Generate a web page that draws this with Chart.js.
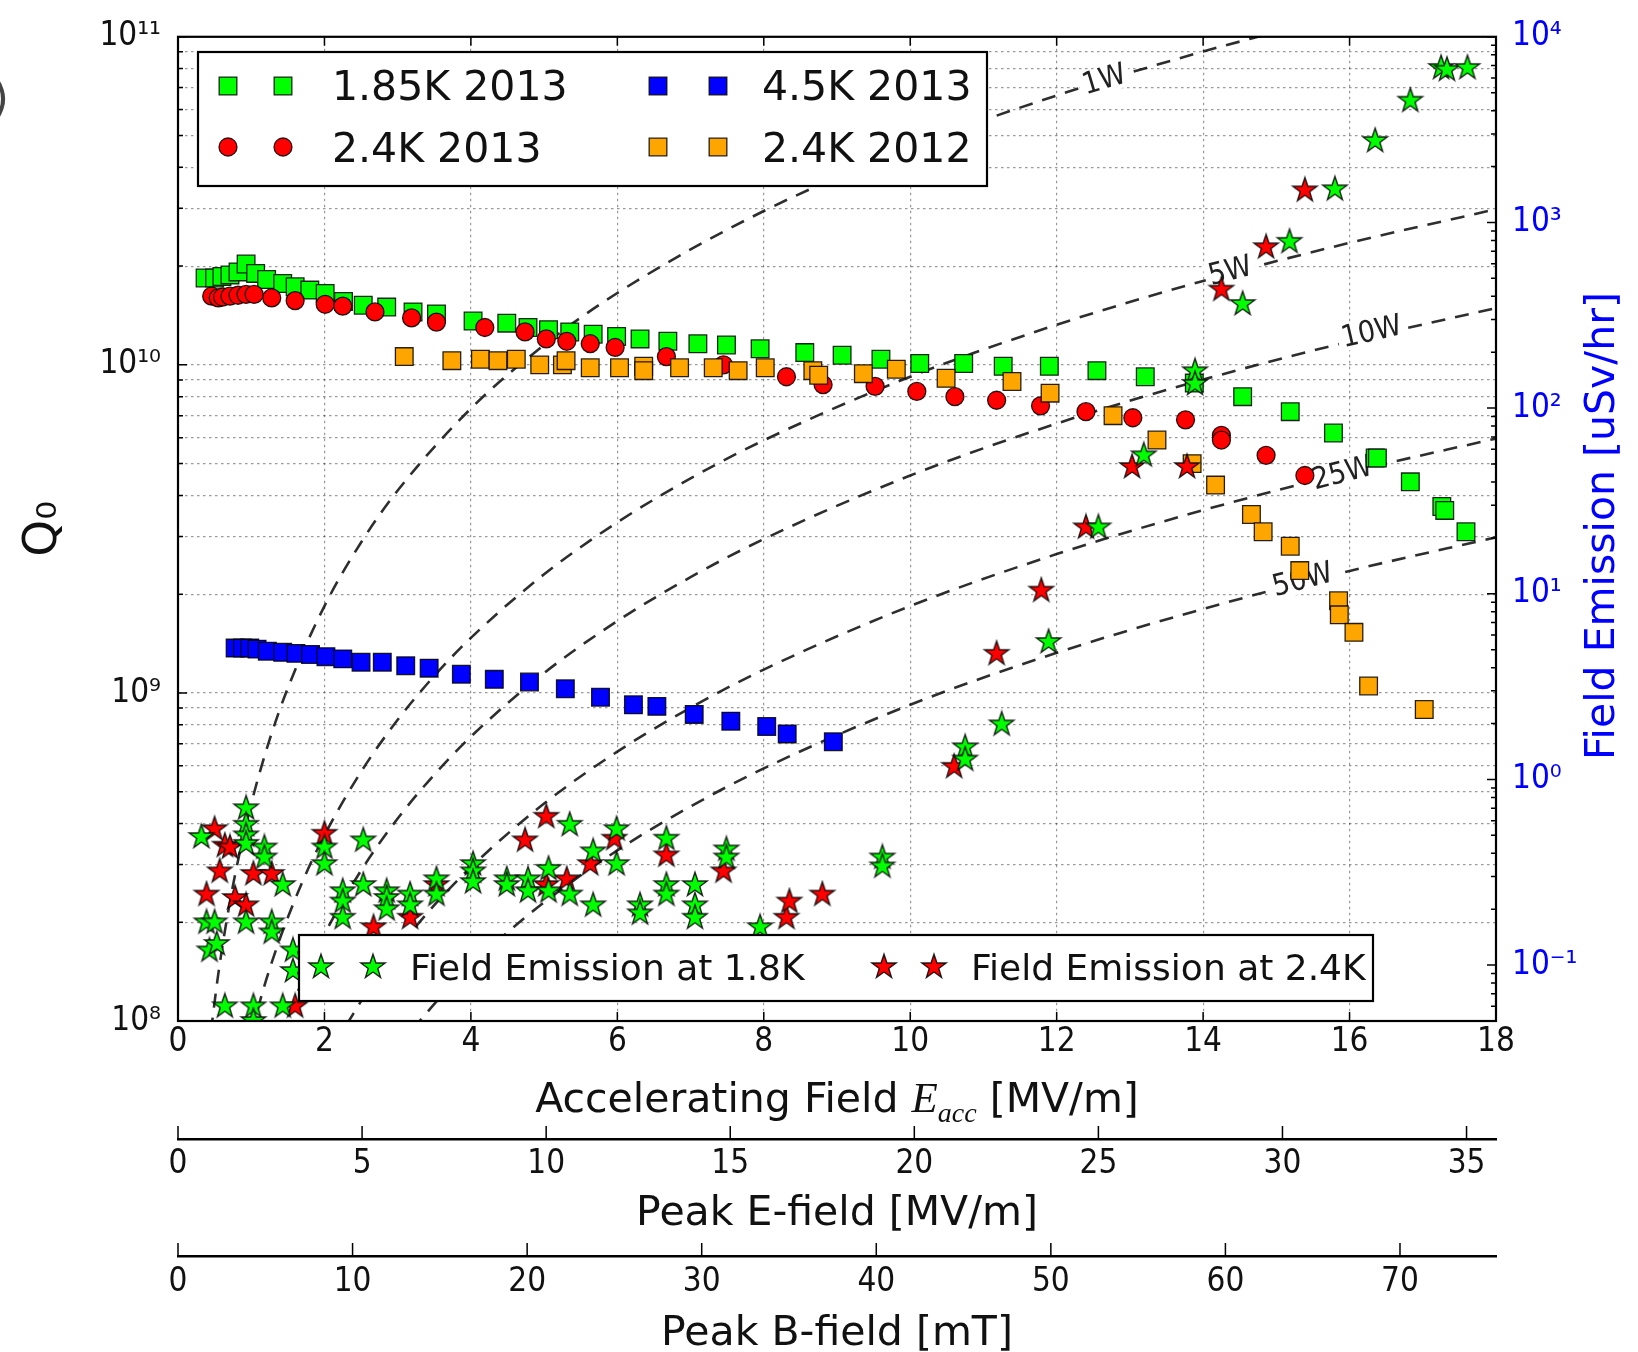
<!DOCTYPE html>
<html>
<head>
<meta charset="utf-8">
<title>Q0 vs accelerating field</title>
<script src="https://cdn.jsdelivr.net/npm/chart.js@4.4.1/dist/chart.umd.min.js"></script>
<style>
  html, body { margin: 0; padding: 0; background: #fff; }
  canvas { display: block; }
</style>
</head>
<body>
<canvas id="myChart" width="1638" height="1352"></canvas>
<script>
// ---- data (E in MV/m, Q0 in units of 1e9, field emission in uSv/hr) ----
const g185E = [0.37, 0.5, 0.6, 0.71, 0.82, 0.93, 1.06, 1.21, 1.43, 1.6, 1.8, 2.01, 2.26, 2.53, 2.85, 3.21, 3.53, 4.03, 4.49, 4.78, 5.06, 5.35, 5.67, 5.99, 6.31, 6.69, 7.1, 7.49, 7.95, 8.56, 9.07, 9.6, 10.13, 10.73, 11.27, 11.9, 12.55, 13.21, 13.88, 14.54, 15.19, 15.78, 16.35, 16.38, 16.83, 17.26, 17.3, 17.59]
const g185Q = [18.4, 18.4, 18.6, 18.8, 19.2, 20.3, 19.0, 18.2, 17.7, 17.3, 16.9, 16.5, 15.6, 15.2, 15.0, 14.5, 14.3, 13.6, 13.4, 13.0, 12.8, 12.6, 12.4, 12.2, 12.0, 11.8, 11.6, 11.5, 11.2, 10.9, 10.7, 10.4, 10.1, 10.1, 9.9, 9.9, 9.6, 9.2, 8.8, 8.0, 7.2, 6.2, 5.2, 5.2, 4.4, 3.7, 3.6, 3.1]

const r24E = [0.46, 0.55, 0.61, 0.71, 0.82, 0.93, 1.04, 1.28, 1.6, 2.01, 2.25, 2.69, 3.19, 3.53, 4.19, 4.74, 5.03, 5.31, 5.63, 5.97, 6.67, 7.45, 8.31, 8.81, 9.52, 10.09, 10.61, 11.18, 11.78, 12.4, 13.04, 13.76, 14.25, 14.25, 14.86, 15.39]
const r24Q = [16.2, 16.0, 16.1, 16.2, 16.3, 16.4, 16.4, 16.0, 15.7, 15.3, 15.1, 14.5, 13.9, 13.5, 13.0, 12.6, 12.0, 11.8, 11.6, 11.3, 10.6, 10.0, 9.2, 8.7, 8.6, 8.3, 8.0, 7.8, 7.5, 7.2, 6.9, 6.8, 6.1, 5.9, 5.3, 4.6]

const b45E = [0.78, 0.88, 0.98, 1.08, 1.22, 1.43, 1.61, 1.81, 2.02, 2.25, 2.5, 2.79, 3.11, 3.43, 3.87, 4.32, 4.8, 5.29, 5.77, 6.22, 6.54, 7.05, 7.55, 8.04, 8.32, 8.95]
const b45Q = [1.37, 1.37, 1.37, 1.36, 1.34, 1.33, 1.32, 1.31, 1.29, 1.27, 1.24, 1.24, 1.21, 1.19, 1.14, 1.10, 1.08, 1.03, 0.97, 0.92, 0.91, 0.86, 0.82, 0.79, 0.75, 0.71]

const o24E = [3.09, 3.74, 4.13, 4.37, 4.62, 4.94, 5.25, 5.3, 5.63, 6.03, 6.36, 6.36, 6.85, 7.31, 7.65, 8.02, 8.67, 8.75, 9.36, 9.81, 10.49, 11.39, 11.91, 12.77, 13.37, 13.85, 14.17, 14.66, 14.82, 15.19, 15.32, 15.85, 15.86, 16.06, 16.26, 17.02]
const o24Q = [10.6, 10.3, 10.4, 10.3, 10.4, 10.0, 10.0, 10.3, 9.8, 9.8, 9.9, 9.6, 9.8, 9.8, 9.6, 9.8, 9.6, 9.3, 9.4, 9.7, 9.1, 8.9, 8.2, 7.0, 5.9, 5.0, 4.3, 3.5, 3.1, 2.8, 2.36, 1.91, 1.73, 1.53, 1.05, 0.89]

const fe18E = [0.32, 0.93, 0.93, 0.93, 0.93, 1.18, 1.18, 1.43, 2.0, 2.0, 2.25, 2.25, 2.25, 2.53, 2.53, 2.85, 2.85, 2.85, 3.17, 3.17, 3.53, 3.53, 4.03, 4.03, 4.03, 4.49, 4.49, 4.78, 4.78, 5.06, 5.06, 5.35, 5.35, 5.67, 5.67, 5.99, 5.99, 6.31, 6.31, 6.67, 6.67, 6.67, 7.06, 7.06, 7.06, 7.49, 7.49, 7.95, 0.39, 0.5, 0.93, 1.28, 1.28, 0.43, 0.53, 0.64, 1.03, 1.03, 1.43, 1.57, 1.57, 9.62, 9.62, 10.75, 10.75, 11.25, 11.89, 12.57, 13.19, 13.89, 13.89, 14.54, 15.18, 15.8, 16.35, 16.83, 17.25, 17.33, 17.61]
const fe18V = [0.49, 0.70, 0.57, 0.50, 0.45, 0.43, 0.38, 0.27, 0.43, 0.35, 0.25, 0.22, 0.18, 0.47, 0.27, 0.25, 0.23, 0.20, 0.24, 0.21, 0.29, 0.24, 0.35, 0.32, 0.28, 0.29, 0.27, 0.29, 0.25, 0.33, 0.25, 0.57, 0.24, 0.41, 0.21, 0.54, 0.35, 0.21, 0.19, 0.48, 0.27, 0.24, 0.27, 0.21, 0.18, 0.42, 0.38, 0.16, 0.17, 0.17, 0.17, 0.17, 0.15, 0.12, 0.13, 0.06, 0.06, 0.05, 0.06, 0.12, 0.093, 0.38, 0.34, 1.49, 1.28, 1.98, 5.5, 22.8, 55.7, 158, 135, 364, 787, 1510, 2750, 4530, 6800, 6650, 6800]

const fe24E = [0.5, 0.64, 0.71, 0.57, 0.39, 0.78, 0.93, 1.03, 1.28, 2.0, 2.67, 3.17, 3.53, 4.74, 5.03, 5.03, 5.31, 5.63, 5.96, 6.67, 7.45, 8.31, 8.35, 1.6, 8.8, 10.6, 11.18, 11.79, 12.4, 13.03, 13.78, 14.25, 14.86, 15.39]
const fe24V = [0.54, 0.44, 0.43, 0.32, 0.24, 0.23, 0.21, 0.31, 0.31, 0.51, 0.16, 0.18, 0.27, 0.47, 0.63, 0.27, 0.29, 0.35, 0.48, 0.39, 0.32, 0.18, 0.22, 0.06, 0.24, 1.17, 4.75, 10.4, 22.8, 48.2, 48.2, 435, 736, 1490]

// constant dissipated power curves (Q0)
const pw1E = [0.45, 0.55, 0.7, 0.85, 1, 1.25, 1.5, 2, 2.5, 3, 4, 5, 6, 8, 10, 12, 14, 15]
const pw1Q = [9.3e7, 1.39e8, 2.25e8, 3.32e8, 4.6e8, 7.19e8, 1.035e9, 1.84e9, 2.875e9, 4.14e9, 7.36e9, 1.15e10, 1.656e10, 2.944e10, 4.6e10, 6.624e10, 9.016e10, 1.035e11]
const pw5E = [1, 1.2, 1.4, 1.7, 2, 2.5, 3, 3.5, 4, 5, 6, 7, 8, 10, 12, 14, 16, 18]
const pw5Q = [9.2e7, 1.325e8, 1.803e8, 2.659e8, 3.68e8, 5.75e8, 8.28e8, 1.127e9, 1.472e9, 2.3e9, 3.312e9, 4.508e9, 5.888e9, 9.2e9, 1.325e10, 1.803e10, 2.355e10, 2.981e10]
const pw10E = [1.4, 1.7, 2, 2.5, 3, 3.5, 4, 5, 6, 7, 8, 10, 12, 14, 16, 18]
const pw10Q = [9.02e7, 1.329e8, 1.84e8, 2.875e8, 4.14e8, 5.635e8, 7.36e8, 1.15e9, 1.656e9, 2.254e9, 2.944e9, 4.6e9, 6.624e9, 9.016e9, 1.178e10, 1.49e10]
const pw25E = [2.3, 2.6, 3, 3.5, 4, 5, 6, 7, 8, 10, 12, 14, 16, 18]
const pw25Q = [9.73e7, 1.244e8, 1.656e8, 2.254e8, 2.944e8, 4.6e8, 6.624e8, 9.016e8, 1.178e9, 1.84e9, 2.65e9, 3.606e9, 4.71e9, 5.962e9]
const pw50E = [3.2, 3.6, 4, 4.5, 5, 6, 7, 8, 10, 12, 14, 16, 18]
const pw50Q = [9.42e7, 1.192e8, 1.472e8, 1.863e8, 2.3e8, 3.312e8, 4.508e8, 5.888e8, 9.2e8, 1.325e9, 1.803e9, 2.355e9, 2.981e9]

const powerNames = ['1W', '5W', '10W', '25W', '50W']
const powerLabelE = [12.65, 14.37, 16.3, 15.9, 15.36]
const powerLabelQ = [7.4e10, 1.93e10, 1.26e10, 4.67e9, 2.21e9]

// secondary axis ranges (peak fields at Eacc = 18 MV/m)
const peakEMax = 35.8
const peakBMax = 75.5

//styles
const EDGE = 'rgba(0,0,0,0.85)'
const TICK_FAM = "'Liberation Sans Narrow', 'DejaVu Sans Condensed', 'DejaVu Sans', sans-serif"
const MAIN_FAM = "'DejaVu Sans', sans-serif"
const gridCol = 'rgba(0,0,0,0.4)'
Chart.defaults.font.family = MAIN_FAM

function makeStar(fill){
    const c = document.createElement('canvas')
    c.width = 30; c.height = 30
    const g = c.getContext('2d')
    const R = 12.8, r = R * 0.39
    g.beginPath()
    for (let i = 0; i < 10; i++) {
        const a = -Math.PI / 2 + i * Math.PI / 5
        const rr = i % 2 ? r : R
        g.lineTo(15 + rr * Math.cos(a), 15 + rr * Math.sin(a))
    }
    g.closePath()
    g.fillStyle = fill
    g.fill()
    g.lineWidth = 1.4
    g.strokeStyle = EDGE
    g.stroke()
    return c
}
const starG = makeStar('#00ff00')
const starR = makeStar('#ff0000')

const pts = (xs, ys, f = 1) => xs.map((x, i) => ({x: x, y: ys[i] * f}))

const supMap = {'0':'⁰','1':'¹','2':'²','3':'³','4':'⁴','5':'⁵','6':'⁶','7':'⁷','8':'⁸','9':'⁹','-':'⁻'}
function powLabel(v){
    const l = Math.log10(v), r = Math.round(l)
    if (Math.abs(l - r) > 1e-9) return ''
    return '10' + String(r).split('').map(c => supMap[c]).join('')
}
function keepWholeSteps(scale){
    scale.ticks = scale.ticks.filter(t => {
        const m = t.value / Math.pow(10, Math.floor(Math.log10(t.value) + 1e-9))
        return Math.abs(m - Math.round(m)) < 1e-6
    })
}

const markerSets = [
    {label: '1.85K 2013', data: pts(g185E, g185Q, 1e9), pointStyle: 'rect', pointRadius: 12.5, backgroundColor: '#00ff00', order: 6},
    {label: '2.4K 2013', data: pts(r24E, r24Q, 1e9), pointStyle: 'circle', pointRadius: 9, backgroundColor: '#ff0000', order: 5},
    {label: '4.5K 2013', data: pts(b45E, b45Q, 1e9), pointStyle: 'rect', pointRadius: 12.5, backgroundColor: '#0000ff', order: 4},
    {label: '2.4K 2012', data: pts(o24E, o24Q, 1e9), pointStyle: 'rect', pointRadius: 12.5, backgroundColor: '#ffa500', order: 3},
]
const starSets = [
    {label: 'Field Emission at 1.8K', data: pts(fe18E, fe18V), pointStyle: starG, pointRadius: 12, order: 1, yAxisID: 'y2'},
    {label: 'Field Emission at 2.4K', data: pts(fe24E, fe24V), pointStyle: starR, pointRadius: 12, order: 2, yAxisID: 'y2'},
]
const powerE = [pw1E, pw5E, pw10E, pw25E, pw50E]
const powerQ = [pw1Q, pw5Q, pw10Q, pw25Q, pw50Q]
const lineSets = powerNames.map((n, i) => ({
    type: 'line', label: n, data: pts(powerE[i], powerQ[i]), powerIdx: i,
    borderColor: 'rgba(0,0,0,0.82)', borderWidth: 2.6, borderDash: [14, 10],
    pointRadius: 0, fill: false, cubicInterpolationMode: 'monotone', order: 10 + i
}))

markerSets.forEach(d => { d.borderColor = EDGE; d.borderWidth = 1.3; d.clip = 0 })
starSets.forEach(d => { d.clip = 0 })
lineSets.forEach(d => { d.clip = 0 })

function marker(ctx, ds, x, y){
    ctx.save()
    if (typeof ds.pointStyle === 'object') {
        ctx.drawImage(ds.pointStyle, x - ds.pointStyle.width / 2, y - ds.pointStyle.height / 2)
    } else {
        ctx.fillStyle = ds.backgroundColor
        ctx.strokeStyle = EDGE
        ctx.lineWidth = 1.3
        ctx.beginPath()
        if (ds.pointStyle === 'rect') {
            const s = ds.pointRadius * Math.SQRT1_2
            ctx.rect(x - s, y - s, 2 * s, 2 * s)
        } else {
            ctx.arc(x, y, ds.pointRadius, 0, Math.PI * 2)
        }
        ctx.fill()
        ctx.stroke()
    }
    ctx.restore()
}

function drawPowerLabel(chart, i, ds){
    const ctx = chart.ctx, xs = chart.scales.x, ys = chart.scales.y
    const px = xs.getPixelForValue(powerLabelE[i]), py = ys.getPixelForValue(powerLabelQ[i])
    const d = ds.data
    let k = d.findIndex(p => p.x > powerLabelE[i])
    if (k < 1) k = d.length - 1
    const a = d[k - 1], b = d[k]
    const ang = Math.atan2(ys.getPixelForValue(b.y) - ys.getPixelForValue(a.y), xs.getPixelForValue(b.x) - xs.getPixelForValue(a.x))
    ctx.save()
    ctx.beginPath()
    ctx.rect(chart.chartArea.left, chart.chartArea.top, chart.chartArea.width, chart.chartArea.height)
    ctx.clip()
    ctx.translate(px, py)
    ctx.rotate(ang)
    ctx.font = '30px ' + TICK_FAM
    const w = ctx.measureText(powerNames[i]).width
    ctx.fillStyle = '#fff'
    ctx.fillRect(-w / 2 - 4, -13, w + 8, 26)
    ctx.fillStyle = '#222'
    ctx.textAlign = 'center'
    ctx.textBaseline = 'middle'
    ctx.fillText(powerNames[i], 0, 1)
    ctx.restore()
}

const overlay = {
    id: 'overlay',
    afterDatasetDraw(chart, args){
        const ds = chart.data.datasets[args.index]
        if (ds.powerIdx !== undefined) drawPowerLabel(chart, ds.powerIdx, ds)
    },
    afterDatasetsDraw(chart){
        const ctx = chart.ctx
        const {left, right, top, bottom} = chart.chartArea
        const sc = chart.scales
        ctx.save()

        // inward tick marks
        ctx.strokeStyle = '#000'
        ctx.lineWidth = 1.5
        ctx.beginPath()
        sc.y.ticks.forEach(t => {
            const yy = sc.y.getPixelForValue(t.value)
            const len = powLabel(t.value) ? 9 : 5
            ctx.moveTo(left, yy); ctx.lineTo(left + len, yy)
        })
        sc.y2.ticks.forEach(t => {
            const yy = sc.y2.getPixelForValue(t.value)
            const len = powLabel(t.value) ? 9 : 5
            ctx.moveTo(right, yy); ctx.lineTo(right - len, yy)
        })
        sc.x.ticks.forEach(t => {
            const xx = sc.x.getPixelForValue(t.value)
            ctx.moveTo(xx, bottom); ctx.lineTo(xx, bottom - 9)
            ctx.moveTo(xx, top); ctx.lineTo(xx, top + 9)
        })
        ;[sc.xE, sc.xB].forEach(s => {
            s.ticks.forEach(t => {
                const xx = s.getPixelForValue(t.value)
                ctx.moveTo(xx, s.top); ctx.lineTo(xx, s.top - 13)
            })
        })
        ctx.stroke()

        // frame
        ctx.lineWidth = 2.2
        ctx.strokeRect(left, top, right - left, bottom - top)

        // legend, upper left
        ctx.fillStyle = '#fff'
        ctx.fillRect(198, 52, 789, 134)
        ctx.lineWidth = 2.2
        ctx.strokeStyle = '#000'
        ctx.strokeRect(198, 52, 789, 134)
        const cols = [[228, 283, 332], [658, 718, 762]]
        const rows = [[86, 100], [147, 162]]
        const order = [[0, 1], [2, 3]]   // column-major like the original
        ctx.font = '41px ' + MAIN_FAM
        ctx.textBaseline = 'alphabetic'
        order.forEach((col, ci) => col.forEach((si, ri) => {
            const ds = markerSets[si]
            marker(ctx, ds, cols[ci][0], rows[ri][0])
            marker(ctx, ds, cols[ci][1], rows[ri][0])
            ctx.fillStyle = '#111'
            ctx.fillText(ds.label, cols[ci][2], rows[ri][1])
        }))

        // legend, field emission
        ctx.fillStyle = '#fff'
        ctx.fillRect(299, 935, 1074, 66)
        ctx.strokeRect(299, 935, 1074, 66)
        ctx.font = '36px ' + MAIN_FAM
        const fe = [[321, 373, 410], [884, 934, 971]]
        starSets.forEach((ds, i) => {
            marker(ctx, ds, fe[i][0], 967)
            marker(ctx, ds, fe[i][1], 967)
            ctx.fillStyle = '#111'
            ctx.fillText(ds.label, fe[i][2], 980)
        })

        // x axis title with E_acc
        const parts = [
            ['Accelerating Field ', '41px ' + MAIN_FAM, 0],
            ['E', "italic 43px 'Liberation Serif', serif", 0],
            ['acc', "italic 28px 'Liberation Serif', serif", 10],
            [' [MV/m]', '41px ' + MAIN_FAM, 0],
        ]
        let total = 0
        parts.forEach(p => { ctx.font = p[1]; p.push(ctx.measureText(p[0]).width); total += p[3] })
        let xx = (left + right) / 2 - total / 2
        ctx.fillStyle = '#111'
        ctx.textAlign = 'left'
        parts.forEach(p => { ctx.font = p[1]; ctx.fillText(p[0], xx, 1112 + p[2]); xx += p[3] })

        // right axis title
        ctx.save()
        ctx.translate(1603, 526)
        ctx.rotate(-Math.PI / 2)
        ctx.font = '41px ' + MAIN_FAM
        ctx.fillStyle = '#0000ff'
        ctx.textAlign = 'center'
        ctx.textBaseline = 'middle'
        ctx.fillText('Field Emission [uSv/hr]', 0, 0)
        ctx.restore()

        // clipped panel letter at the far left
        ctx.font = '44px ' + MAIN_FAM
        ctx.fillStyle = '#444'
        ctx.textAlign = 'right'
        ctx.fillText('(b)', 9, 113)

        ctx.restore()
    }
}

const tickFont = {family: TICK_FAM, size: 33}

new Chart(document.getElementById('myChart'), {
    type: 'scatter',
    data: {datasets: [...starSets, ...markerSets, ...lineSets]},
    options: {
        responsive: false,
        animation: false,
        devicePixelRatio: 1,
        layout: {padding: {left: 0, right: 0, top: 29, bottom: 0}},
        plugins: {legend: {display: false}, tooltip: {enabled: false}},
        scales: {
            x: {
                type: 'linear', position: 'bottom', min: 0, max: 18, weight: 0,
                ticks: {stepSize: 2, padding: 2, color: '#111', font: tickFont},
                grid: {color: gridCol, lineWidth: 1.2, drawTicks: false},
                border: {display: true, color: '#000', width: 2, dash: [2.5, 3.5]},
                afterFit: s => { s.height = 118 }
            },
            xE: {
                type: 'linear', position: 'bottom', min: 0, max: peakEMax, weight: 1,
                ticks: {stepSize: 5, includeBounds: false, padding: 6, color: '#111', font: tickFont},
                grid: {display: false, drawTicks: false},
                border: {display: true, color: '#000', width: 2.5},
                title: {display: true, text: 'Peak E-field [MV/m]', color: '#111', font: {size: 41, lineHeight: 1}, padding: {top: 0, bottom: 21}},
                afterFit: s => { s.height = 117 }
            },
            xB: {
                type: 'linear', position: 'bottom', min: 0, max: peakBMax, weight: 2,
                ticks: {stepSize: 10, includeBounds: false, padding: 7, color: '#111', font: tickFont},
                grid: {display: false, drawTicks: false},
                border: {display: true, color: '#000', width: 2.5},
                title: {display: true, text: 'Peak B-field [mT]', color: '#111', font: {size: 41, lineHeight: 0.85}, padding: {top: 0, bottom: 0}},
                afterFit: s => { s.height = 96 }
            },
            y: {
                type: 'logarithmic', position: 'left', min: 1e8, max: 1e11,
                afterBuildTicks: keepWholeSteps,
                ticks: {autoSkip: false, callback: powLabel, padding: 17, color: '#111', font: tickFont},
                grid: {color: gridCol, lineWidth: 1.2, drawTicks: false},
                border: {display: true, color: '#000', width: 2, dash: [2.5, 3.5]},
                title: {display: true, text: 'Q₀', color: '#111', font: {size: 47}, padding: {top: 16, bottom: 0}},
                afterFit: s => { s.width = 178 }
            },
            y2: {
                type: 'logarithmic', position: 'right', min: 0.05, max: 1e4,
                afterBuildTicks: keepWholeSteps,
                ticks: {autoSkip: false, callback: powLabel, padding: 16, color: '#0000ff', font: tickFont},
                grid: {drawOnChartArea: false, drawTicks: false},
                border: {display: true, color: '#000', width: 2},
                afterFit: s => { s.width = 142 }
            }
        }
    },
    plugins: [overlay]
});
</script>
</body>
</html>
